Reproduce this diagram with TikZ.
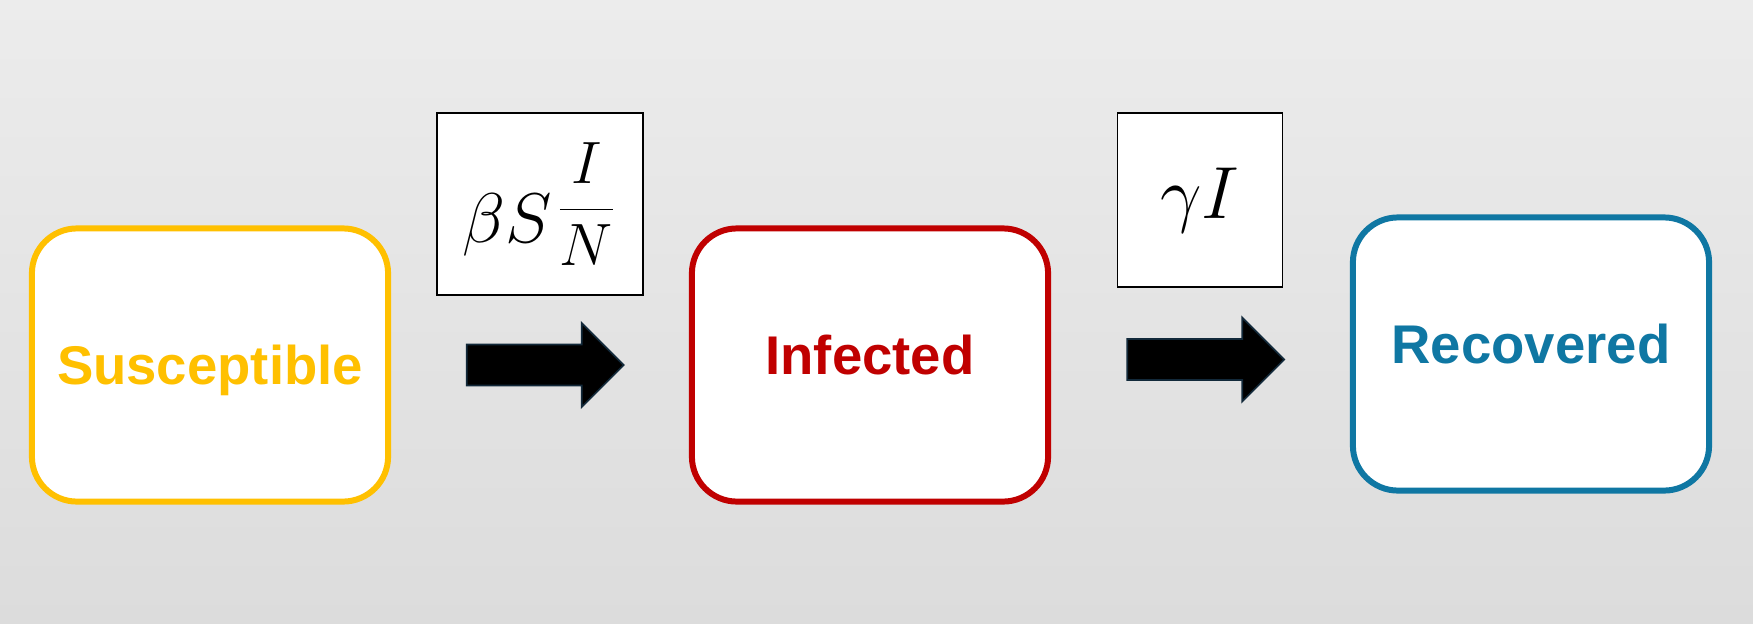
\RequirePackage{fix-cm}
\documentclass[tikz,border=0pt]{standalone}
\usepackage{fontspec}
\setsansfont{Liberation Sans}
\usetikzlibrary{shapes.arrows,calc}
\definecolor{bgtop}{HTML}{ECECEC}
\definecolor{bgbot}{HTML}{DCDCDC}
\definecolor{susc}{HTML}{FFC000}
\definecolor{infc}{HTML}{C00000}
\definecolor{recc}{HTML}{0F77A3}
\definecolor{flowline}{HTML}{12293A}

\begin{document}
\begin{tikzpicture}[x=0.01cm,y=-0.01cm,
  state/.style={draw=#1,text=#1,fill=white,line width=1.7pt,rounded corners=0.45cm,
    minimum width=3.56cm,minimum height=2.73cm,text height=0.38cm,text depth=0cm,
    font=\fontsize{15.5}{18}\sffamily\bfseries},
  rate/.style={draw=black,fill=white,line width=0.5pt,inner sep=0pt},
  flow/.style={single arrow,fill=black,draw=flowline,line width=0.5pt,inner sep=0pt,
    text height=0.39cm,minimum height=1.57cm,single arrow head extend=0.215cm,
    single arrow tip angle=90}]
\shade[top color=bgtop,bottom color=bgbot] (0,0) rectangle (1753,624);
% compartments
\node[state=susc] (sus) at (210,365) {Susceptible};
\node[state=infc,text depth=0.2cm] (inf) at (870,365) {Infected};
\node[state=recc,text depth=0.2cm] (rec) at (1531,354) {Recovered};
% transfer rates
\node[rate,minimum width=2.06cm,minimum height=1.82cm] (rateSI) at (540,204)
  {{\fontsize{20}{24}\selectfont$\beta S$}\kern1pt\raisebox{1.8mm}{\fontsize{17}{20}\selectfont$\displaystyle\frac{I}{N}$}};
\node[rate,minimum width=1.65cm,minimum height=1.74cm] (rateIR) at (1200,200)
  {\fontsize{21}{25}\selectfont$\gamma I$};
% flows
\node[flow] (arrSI) at ($(sus.east)!.5!(inf.west)+(-5,0)$) {};
\node[flow] (arrIR) at ($(inf.east)!.5!(rec.west)+(-5,0)$) {};
\end{tikzpicture}
\end{document}
